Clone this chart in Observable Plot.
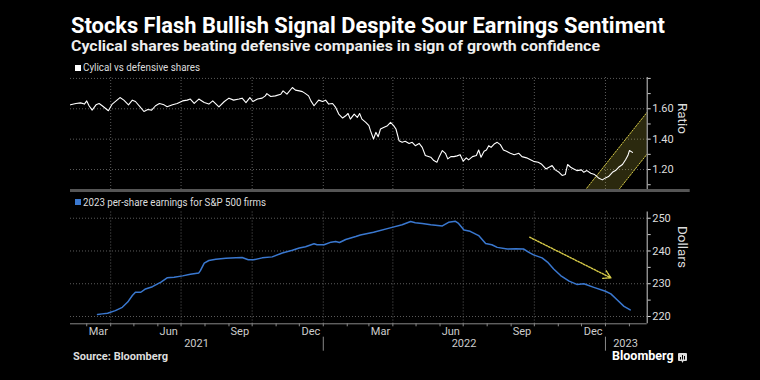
<!DOCTYPE html>
<html><head><meta charset="utf-8">
<script src="https://cdn.jsdelivr.net/npm/d3@7"></script>
<script src="https://cdn.jsdelivr.net/npm/@observablehq/plot@0.6"></script>
<style>
html,body{margin:0;padding:0;background:#000;}
#wrap{position:relative;width:760px;height:380px;background:#000;overflow:hidden;font-family:Roboto,"DejaVu Sans",sans-serif;color:#fff;}
.t{position:absolute;white-space:nowrap;line-height:1;transform-origin:0 50%;}
.sq{position:absolute;width:6px;height:6px;}
.plot{position:absolute;left:0;}
</style></head><body>
<div id="wrap">
  <div class="t" data-w="594" style="left:71px;top:14.5px;font-size:21.5px;font-weight:700;color:#fff;">Stocks Flash Bullish Signal Despite Sour Earnings Sentiment</div>
  <div class="t" data-w="529" style="left:71px;top:38.5px;font-size:15.5px;font-weight:700;color:#eee;">Cyclical shares beating defensive companies in sign of growth confidence</div>
  <div class="sq" style="left:75px;top:64.7px;background:#fff;"></div>
  <div class="t" data-w="117" style="left:82.7px;top:62.8px;font-size:10px;color:#ddd;">Cylical vs defensive shares</div>
  <div class="sq" style="left:75px;top:199.3px;background:#3a78d0;"></div>
  <div class="t" data-w="183" style="left:82.7px;top:197.5px;font-size:10px;color:#ddd;">2023 per-share earnings for S&amp;P 500 firms</div>
  <div id="p1" class="plot" style="top:70px;"></div>
  <div id="p2" class="plot" style="top:205px;"></div>
  <div class="t" data-w="95" style="left:73px;top:352px;font-size:10px;font-weight:700;color:#ddd;">Source: Bloomberg</div>
  <div class="t" data-w="61.7" style="left:611.7px;top:352.2px;font-size:12px;line-height:0.75;font-weight:700;color:#fff;">Bloomberg</div>
  <svg style="position:absolute;left:678px;top:353px;" width="9" height="10" viewBox="0 0 9 10">
    <path d="M1 0h7a1 1 0 0 1 1 1v6a1 1 0 0 1-1 1h-2.5l-1 2-1-2h-2.5a1 1 0 0 1-1-1v-6a1 1 0 0 1 1-1z" fill="#ddd"/>
    <rect x="2" y="4" width="1" height="2.5" fill="#000"/><rect x="4" y="2" width="1" height="4.5" fill="#000"/><rect x="6" y="3" width="1" height="3.5" fill="#000"/>
  </svg>
</div>
<script>
// ---------- data ----------
const xStart = "2021-02-08", xEnd = "2023-02-24";
const ratioDates = ["2021-02-08","2021-02-15","2021-02-21","2021-02-26","2021-03-01","2021-03-04","2021-03-08","2021-03-13","2021-03-17","2021-03-21","2021-03-29","2021-04-03","2021-04-13","2021-04-18","2021-04-24","2021-04-29","2021-05-03","2021-05-09","2021-05-14","2021-05-19","2021-05-24","2021-05-29","2021-06-03","2021-06-09","2021-06-13","2021-06-20","2021-06-26","2021-07-03","2021-07-09","2021-07-13","2021-07-18","2021-07-24","2021-07-31","2021-08-06","2021-08-11","2021-08-19","2021-08-26","2021-09-01","2021-09-07","2021-09-14","2021-09-18","2021-09-23","2021-09-28","2021-10-02","2021-10-08","2021-10-14","2021-10-18","2021-10-20","2021-10-25","2021-10-31","2021-11-07","2021-11-10","2021-11-15","2021-11-22","2021-11-26","2021-12-01","2021-12-05","2021-12-09","2021-12-13","2021-12-16","2021-12-20","2021-12-26","2021-12-31","2022-01-04","2022-01-08","2022-01-13","2022-01-17","2022-01-21","2022-01-26","2022-01-30","2022-02-02","2022-02-05","2022-02-10","2022-02-14","2022-02-17","2022-02-20","2022-02-25","2022-03-01","2022-03-03","2022-03-07","2022-03-10","2022-03-13","2022-03-16","2022-03-20","2022-03-25","2022-03-29","2022-04-02","2022-04-05","2022-04-09","2022-04-13","2022-04-17","2022-04-22","2022-04-26","2022-04-30","2022-05-05","2022-05-09","2022-05-13","2022-05-20","2022-05-24","2022-05-28","2022-05-31","2022-06-04","2022-06-08","2022-06-11","2022-06-15","2022-06-19","2022-06-23","2022-06-27","2022-07-01","2022-07-05","2022-07-08","2022-07-13","2022-07-18","2022-07-21","2022-07-24","2022-07-28","2022-07-31","2022-08-03","2022-08-06","2022-08-10","2022-08-14","2022-08-18","2022-08-22","2022-08-26","2022-08-31","2022-09-05","2022-09-11","2022-09-15","2022-09-21","2022-09-26","2022-09-30","2022-10-06","2022-10-10","2022-10-16","2022-10-20","2022-10-24","2022-10-28","2022-11-02","2022-11-06","2022-11-10","2022-11-13","2022-11-17","2022-11-21","2022-11-25","2022-12-01","2022-12-04","2022-12-08","2022-12-13","2022-12-18","2022-12-23","2022-12-28","2023-01-01","2023-01-05","2023-01-10","2023-01-14","2023-01-18","2023-01-23","2023-01-27","2023-01-30","2023-02-01","2023-02-05"];
const ratioValues = [1.626,1.635,1.639,1.631,1.652,1.620,1.591,1.626,1.635,1.620,1.587,1.631,1.674,1.657,1.626,1.657,1.648,1.613,1.582,1.595,1.591,1.620,1.635,1.626,1.613,1.626,1.635,1.652,1.657,1.664,1.635,1.664,1.641,1.631,1.652,1.613,1.648,1.670,1.657,1.664,1.670,1.641,1.674,1.648,1.664,1.670,1.685,1.700,1.681,1.685,1.696,1.718,1.696,1.740,1.723,1.718,1.713,1.700,1.685,1.652,1.620,1.657,1.648,1.657,1.631,1.635,1.609,1.565,1.539,1.554,1.569,1.532,1.565,1.543,1.569,1.532,1.510,1.489,1.456,1.401,1.445,1.416,1.467,1.477,1.489,1.510,1.489,1.467,1.390,1.379,1.386,1.372,1.379,1.357,1.372,1.346,1.292,1.281,1.259,1.248,1.285,1.325,1.307,1.270,1.285,1.285,1.290,1.298,1.255,1.277,1.264,1.285,1.292,1.329,1.281,1.320,1.329,1.357,1.346,1.368,1.379,1.364,1.329,1.320,1.307,1.298,1.307,1.285,1.277,1.264,1.254,1.248,1.237,1.204,1.215,1.226,1.198,1.182,1.161,1.167,1.233,1.215,1.204,1.193,1.198,1.182,1.193,1.176,1.167,1.145,1.132,1.145,1.154,1.182,1.193,1.215,1.233,1.264,1.292,1.325,1.313];

const epsDates = ["2021-03-15","2021-03-21","2021-03-28","2021-04-07","2021-04-16","2021-04-23","2021-04-29","2021-05-03","2021-05-10","2021-05-16","2021-05-25","2021-06-05","2021-06-13","2021-06-22","2021-07-03","2021-07-13","2021-07-24","2021-07-26","2021-07-31","2021-08-06","2021-08-15","2021-08-28","2021-09-10","2021-09-18","2021-09-26","2021-10-03","2021-10-14","2021-10-27","2021-11-09","2021-11-22","2021-12-01","2021-12-09","2021-12-20","2021-12-24","2022-01-02","2022-01-11","2022-01-17","2022-01-22","2022-01-30","2022-02-12","2022-02-18","2022-03-07","2022-03-31","2022-04-13","2022-04-24","2022-04-30","2022-05-09","2022-05-20","2022-06-04","2022-06-12","2022-06-21","2022-06-25","2022-07-02","2022-07-10","2022-07-21","2022-07-30","2022-08-07","2022-08-14","2022-08-27","2022-09-07","2022-09-17","2022-09-24","2022-09-30","2022-10-11","2022-10-18","2022-10-26","2022-11-04","2022-11-15","2022-11-25","2022-12-04","2022-12-17","2023-01-01","2023-01-08","2023-01-16","2023-01-25","2023-02-02"];
const epsValues = [220.6,220.8,221.0,221.8,222.8,224.4,226.4,227.4,227.4,228.4,229.1,230.5,231.8,232.0,232.4,232.9,233.3,234.0,236.3,237.1,237.5,237.8,237.9,238.0,237.3,237.3,237.9,238.2,239.4,240.2,240.9,241.3,242.2,241.9,241.9,242.7,242.9,242.6,243.5,244.4,244.9,245.7,247.2,248.0,249.0,248.6,248.4,248.0,247.65,248.75,249.05,248.4,246.4,246.0,244.7,242.3,241.9,241.1,240.6,240.7,240.6,239.6,238.8,237.9,236.6,234.5,232.5,230.8,229.8,230.0,228.9,227.7,226.9,225.1,223.1,222.0];

// axes / ticks
const ratioDomain = [1.062, 1.806];
const ratioTicks = [1.2, 1.4, 1.6];
const ratioMinor = [1.1, 1.3, 1.5, 1.7, 1.8];
const ratioGrid = [1.2, 1.4, 1.6, 1.8];
const epsDomain = [217.77, 251.9];
const epsTicks = [220, 230, 240, 250];
const epsMinor = [225, 235, 245];
const gridDates = ["2021-04-01","2021-07-01","2021-10-01","2022-01-01","2022-04-01","2022-07-01","2022-10-01","2023-01-01"];
const monthTickDates = ["2021-03-01","2021-04-01","2021-05-01","2021-06-01","2021-07-01","2021-08-01","2021-09-01","2021-10-01","2021-11-01","2021-12-01","2022-01-01","2022-02-01","2022-03-01","2022-04-01","2022-05-01","2022-06-01","2022-07-01","2022-08-01","2022-09-01","2022-10-01","2022-11-01","2022-12-01","2023-01-01","2023-02-01"];
const monthLabels = ["Mar","Jun","Sep","Dec","Mar","Jun","Sep","Dec"];
const monthLabelDates = ["2021-03-16","2021-06-15","2021-09-15","2021-12-16","2022-03-16","2022-06-15","2022-09-15","2022-12-16"];
const yearLabels = ["2021","2022","2023"];
const yearLabelDates = ["2021-07-21","2022-07-02","2023-01-11"];
const yearAnchors = ["middle","middle","start"];
const yearSepDates = ["2022-01-01","2023-01-01"];

// annotations (dates, values)
const channelUpperDates = ["2022-12-01","2023-02-24"], channelUpperValues = [1.034, 1.578];
const channelLowerDates = ["2023-01-11","2023-02-24"], channelLowerValues = [1.021, 1.303];
const arrowFrom = ["2022-09-25", 244.2], arrowTo = ["2023-01-08", 231.8];

// ---------- build ----------
const parse = d3.utcParse("%Y-%m-%d");
const ratio = ratioDates.map((d,i)=>({date: parse(d), value: ratioValues[i]}));
const eps = epsDates.map((d,i)=>({date: parse(d), value: epsValues[i]}));
const xDomain = [parse(xStart), parse(xEnd)];
const grid = gridDates.map(parse);
const upper = channelUpperDates.map((d,i)=>({date: parse(d), value: channelUpperValues[i]}));
const lower = channelLowerDates.map((d,i)=>({date: parse(d), value: channelLowerValues[i]}));
const poly = [upper[0], upper[1], lower[1], lower[0]];
const months = monthLabelDates.map((d,i)=>({date: parse(d), label: monthLabels[i]}));
const years = yearLabelDates.map((d,i)=>({date: parse(d), label: yearLabels[i], anchor: yearAnchors[i]}));

const YEL = "#d8cc48", BLUE = "#3a78d0", GRID = "#5c5c5c";
const style = {background:"transparent", color:"#ddd", fontFamily:"Roboto, 'DejaVu Sans', sans-serif", fontSize:"11px"};
const W = 760, ML = 70, MR = 113.3;

const p1 = Plot.plot({
  width: W, height: 124, marginTop: 7, marginBottom: 4, marginLeft: ML, marginRight: MR,
  style,
  x: {type: "utc", domain: xDomain, axis: null},
  y: {domain: ratioDomain, axis: null},
  marks: [
    Plot.ruleX(grid, {stroke: GRID, strokeDasharray: "1,2"}),
    Plot.ruleY(ratioGrid, {stroke: GRID, strokeDasharray: "1,2"}),
    Plot.line(poly, {x: "date", y: "value", fill: YEL, fillOpacity: 0.2, stroke: null, clip: true}),
    Plot.line(upper, {x: "date", y: "value", stroke: YEL, strokeWidth: 1, strokeDasharray: "1.5,1.5", clip: true}),
    Plot.line(lower, {x: "date", y: "value", stroke: YEL, strokeWidth: 1, strokeDasharray: "1.5,1.5", clip: true}),
    Plot.line(ratio, {x: "date", y: "value", stroke: "#fff", strokeWidth: 1.1}),
    Plot.ruleX([xDomain[1]], {stroke: "#ccc"}),
    Plot.ruleY([ratioDomain[0]], {stroke: "#555", strokeWidth: 3, insetRight: -43}),
    Plot.axisY({anchor: "right", ticks: ratioTicks, tickSize: 3, tickPadding: 2, tickFormat: d => d.toFixed(2), color: "#ddd", label: null, fontSize: 11}),
    Plot.axisY({anchor: "right", ticks: ratioMinor, tickSize: 3, tickFormat: () => "", color: "#ccc", label: null}),
    Plot.text(["Ratio"], {text: d => d, frameAnchor: "right", dx: 35.5, rotate: 90, fontSize: 13.5, fill: "#ddd"})
  ]
});
document.getElementById("p1").append(p1);

const p2 = Plot.plot({
  width: W, height: 150, marginTop: 6.5, marginBottom: 31.7, marginLeft: ML, marginRight: MR,
  style,
  x: {type: "utc", domain: xDomain, axis: null},
  y: {domain: epsDomain, axis: null},
  marks: [
    Plot.ruleX(grid, {stroke: GRID, strokeDasharray: "1,2"}),
    Plot.ruleY(epsTicks, {stroke: GRID, strokeDasharray: "1,2"}),
    Plot.arrow([0], {x1: () => parse(arrowFrom[0]), y1: () => arrowFrom[1], x2: () => parse(arrowTo[0]), y2: () => arrowTo[1], stroke: YEL, strokeWidth: 1.4, strokeDasharray: "1.6,1.4", headLength: 9}),
    Plot.line(eps, {x: "date", y: "value", stroke: BLUE, strokeWidth: 1.5}),
    Plot.ruleX([xDomain[1]], {stroke: "#ccc"}),
    Plot.ruleY([epsDomain[0]], {stroke: "#888"}),
    Plot.axisY({anchor: "right", ticks: epsTicks, tickSize: 3, tickPadding: 2, tickFormat: d => String(d), color: "#ddd", label: null, fontSize: 11}),
    Plot.axisY({anchor: "right", ticks: epsMinor, tickSize: 3, tickFormat: () => "", color: "#ccc", label: null}),
    Plot.axisX({ticks: monthTickDates.map(parse), tickSize: 3, tickFormat: () => "", color: "#888", label: null}),
    Plot.text(months, {x: "date", text: "label", frameAnchor: "bottom", lineAnchor: "top", dy: 3.5, fill: "#ccc", fontSize: 11}),
    Plot.text(years.filter(d => d.anchor === "middle"), {x: "date", text: "label", frameAnchor: "bottom", lineAnchor: "top", dy: 15.5, fill: "#ccc", fontSize: 11}),
    Plot.text(years.filter(d => d.anchor === "start"), {x: "date", text: "label", frameAnchor: "bottom", lineAnchor: "top", dy: 15.5, textAnchor: "start", fill: "#ccc", fontSize: 11}),
    Plot.ruleX(yearSepDates.map(parse), {stroke: "#888", insetTop: 125.2, insetBottom: -27.4}),
    Plot.text(["Dollars"], {text: d => d, frameAnchor: "right", dx: 35.5, rotate: 90, fontSize: 13.5, fill: "#ddd"})
  ]
});
document.getElementById("p2").append(p2);

// fit header/footer texts to reference widths
document.querySelectorAll(".t[data-w]").forEach(el => {
  const w = el.getBoundingClientRect().width;
  const target = +el.dataset.w;
  if (w > 0) el.style.transform = `scaleX(${target / w})`;
});
</script>
</body></html>
